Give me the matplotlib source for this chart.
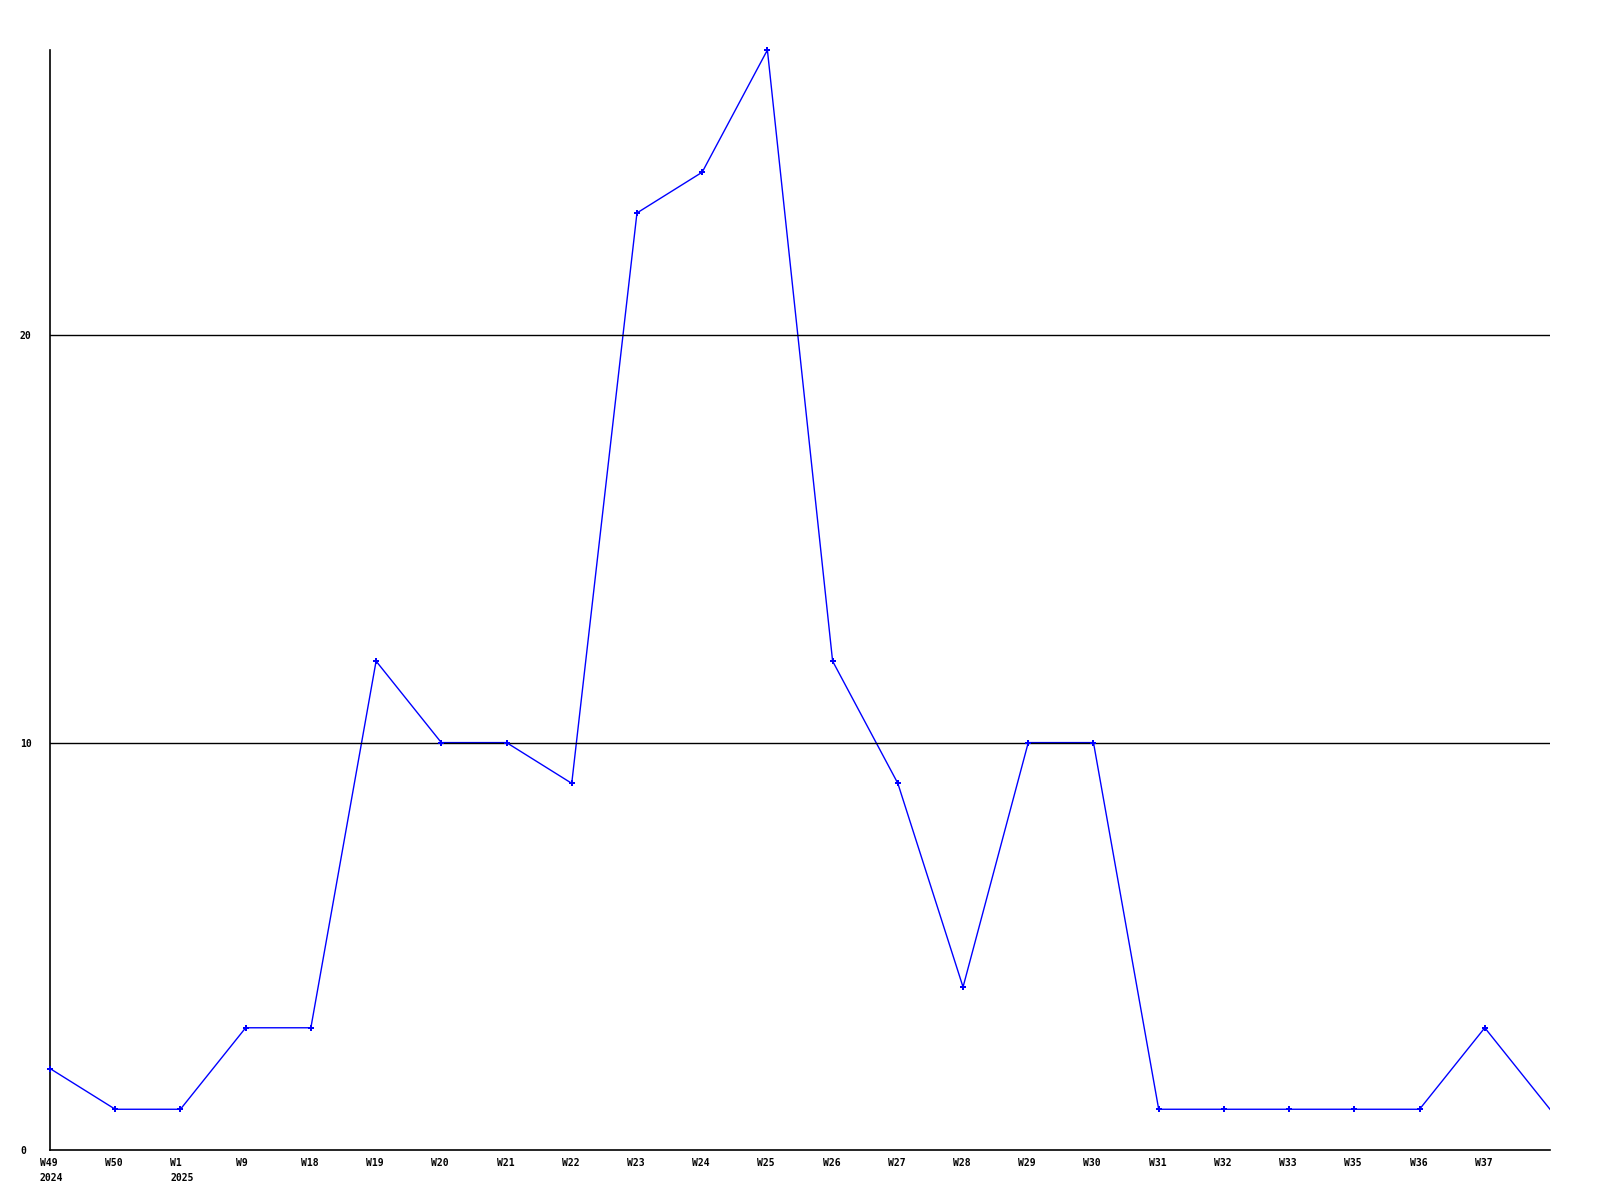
import matplotlib
matplotlib.use("Agg")
import matplotlib.pyplot as plt
import matplotlib.transforms as mtransforms

# weekly counts, last point sits on the right edge without a label
weeks = ["W49\n2024", "W50", "W1\n2025", "W9", "W18", "W19", "W20", "W21", "W22",
         "W23", "W24", "W25", "W26", "W27", "W28", "W29", "W30", "W31", "W32",
         "W33", "W35", "W36", "W37", ""]
counts = [2, 1, 1, 3, 3, 12, 10, 10, 9, 23, 24, 27, 12, 9, 4, 10, 10, 1, 1, 1, 1, 1, 3, 1]
grid_vals = [10, 20]
ytick_vals = [0, 10, 20]

plt.rcParams['font.family'] = ['DejaVu Sans Mono']

fig = plt.figure(figsize=(16, 12), dpi=100)
ax = fig.add_axes([50 / 1600, 50 / 1200, 1500 / 1600, 1100 / 1200])

x = list(range(len(counts)))
ax.plot(x, counts, color="#0000ff", lw=1, zorder=2)
ax.plot(x[:-1], counts[:-1], ls="none", marker="P", ms=4, mew=0,
        color="#0000ff", zorder=4, clip_on=False)

for g in grid_vals:
    ax.axhline(g, color="black", lw=1, zorder=3)

ax.set_xlim(0, len(counts) - 1)
ax.set_ylim(0, 27)

for s in ["top", "right"]:
    ax.spines[s].set_visible(False)
for s in ["left", "bottom"]:
    ax.spines[s].set_linewidth(1.2)
    ax.spines[s].set_color("black")

ax.tick_params(length=0)
ax.set_xticks(x)
ax.set_xticklabels(weeks, fontsize=7, fontweight="bold", ha="left",
                   linespacing=1.6)
offset = mtransforms.ScaledTranslation(-10 / 100, -3 / 100, fig.dpi_scale_trans)
for lbl in ax.get_xticklabels():
    lbl.set_transform(lbl.get_transform() + offset)

ax.set_yticks(ytick_vals)
ax.set_yticklabels([str(v) for v in ytick_vals], fontsize=7, fontweight="bold",
                   ha="left")
ax.tick_params(axis="y", pad=21.6)

fig.savefig("out.png", dpi=100)
